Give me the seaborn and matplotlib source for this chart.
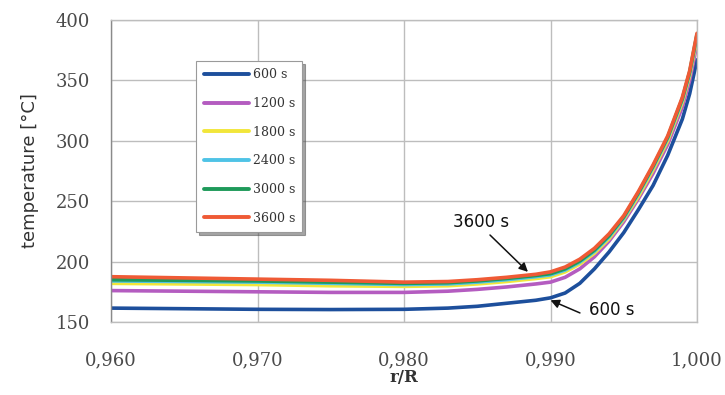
import numpy as np
import pandas as pd
import matplotlib
matplotlib.use("Agg")
import matplotlib.pyplot as plt
import seaborn as sns

r = [0.960, 0.965, 0.970, 0.975, 0.980, 0.983, 0.985, 0.987, 0.989, 0.990,
     0.991, 0.992, 0.993, 0.994, 0.995, 0.996, 0.997, 0.998, 0.999, 0.9995, 1.000]

t600 = [161.5, 161, 160.5, 160.3, 160.5, 161.5, 163, 165.5, 168, 170,
        174, 182, 194, 208, 224, 243, 263, 288, 318, 339, 367]
t1200 = [176, 175.5, 175, 174.5, 174.5, 175.5, 177, 179, 181.5, 183,
         187, 194, 204, 217, 233, 252, 273, 297, 328, 350, 380]
t1800 = [182, 181.5, 181, 180, 179.5, 180, 181.5, 183.5, 186, 187.5,
         191.5, 198, 207, 219, 235, 254, 276, 300, 332, 354, 385]
t2400 = [184, 183.5, 183, 182, 181, 181.5, 183, 185, 187.5, 189,
         193, 199.5, 208.5, 220.5, 236, 256, 278, 302, 334, 356, 387]
t3000 = [185, 184.5, 184, 183, 182, 182.5, 184, 186, 188.5, 190,
         194, 200.5, 209.5, 221.5, 237, 257, 279, 303, 335, 357, 388]
t3600 = [187.5, 186.5, 185.5, 184.5, 183, 183.5, 185, 187, 189.5, 191.5,
         195.5, 202, 211, 223, 238, 258, 280, 304, 336, 358, 389]

labels = ["600 s", "1200 s", "1800 s", "2400 s", "3000 s", "3600 s"]
series = [t600, t1200, t1800, t2400, t3000, t3600]
colors = ["#1d4f9c", "#b45cc0", "#f2e63a", "#4fc3e6", "#1e9a5a", "#ef5a35"]

xticks = [0.960, 0.970, 0.980, 0.990, 1.000]
xtick_labels = ["0,960", "0,970", "0,980", "0,990", "1,000"]
yticks = [150, 200, 250, 300, 350, 400]

df = pd.concat([pd.DataFrame({"r": r, "T": s, "time": lab})
                for s, lab in zip(series, labels)], ignore_index=True)

sns.set_style("white")
fig = plt.figure(figsize=(7.25, 3.95), dpi=100)
ax = fig.add_axes([111/725, 1-322/395, 586/725, 302/395])

sns.lineplot(data=df, x="r", y="T", hue="time", hue_order=labels,
             palette=dict(zip(labels, colors)), linewidth=2.6, ax=ax,
             sort=False, estimator=None)

ax.set_xlim(0.960, 1.000)
ax.set_ylim(150, 400)
ax.set_xticks(xticks)
ax.set_xticklabels(xtick_labels)
ax.set_yticks(yticks)
ax.grid(True, color="#bdbdbd", linewidth=1.0)
for s in ax.spines.values():
    s.set_color("#bdbdbd")
    s.set_linewidth(1.0)
ax.spines["left"].set_color("#8a8a8a")
ax.tick_params(axis="y", which="major", direction="out", length=5, color="#8a8a8a",
               pad=10, labelsize=13, labelcolor="#4a4a4a")
ax.tick_params(axis="x", which="major", direction="out", length=0,
               pad=21, labelsize=13, labelcolor="#4a4a4a")
for lab in ax.get_xticklabels() + ax.get_yticklabels():
    lab.set_fontfamily("DejaVu Serif")

ax.set_ylabel("temperature [°C]", fontsize=13, color="#333333", fontfamily="DejaVu Sans", labelpad=12)
ax.set_xlabel("r/R", fontsize=12, fontweight="bold", color="#333333",
              fontfamily="DejaVu Serif", labelpad=0)

leg = ax.legend(loc="upper left", bbox_to_anchor=(0.135, 0.885), fontsize=9,
                handlelength=3.6, labelspacing=1.25, frameon=True, shadow=True,
                fancybox=False, borderpad=0.6, handletextpad=0.3)
leg.get_frame().set_edgecolor("#9a9a9a")
leg.get_frame().set_linewidth(0.8)
for t in leg.get_texts():
    t.set_fontfamily("DejaVu Serif")
    t.set_color("#333333")
for h in leg.get_lines():
    h.set_linewidth(2.8)

ax.text(0.98526, 232.8, "3600 s", fontsize=12, color="#111111", ha="center", va="center")
ax.annotate("", xy=(0.98846, 191.5), xytext=(0.98587, 222),
            arrowprops=dict(arrowstyle="-|>", color="#111111", lw=1.1,
                            shrinkA=0, shrinkB=0, mutation_scale=13))
ax.text(0.99420, 159.9, "600 s", fontsize=12, color="#111111", ha="center", va="center")
ax.annotate("", xy=(0.99000, 168), xytext=(0.99201, 157.5),
            arrowprops=dict(arrowstyle="-|>", color="#111111", lw=1.1,
                            shrinkA=0, shrinkB=0, mutation_scale=13))

fig.savefig("out.png", dpi=100, facecolor="white")
